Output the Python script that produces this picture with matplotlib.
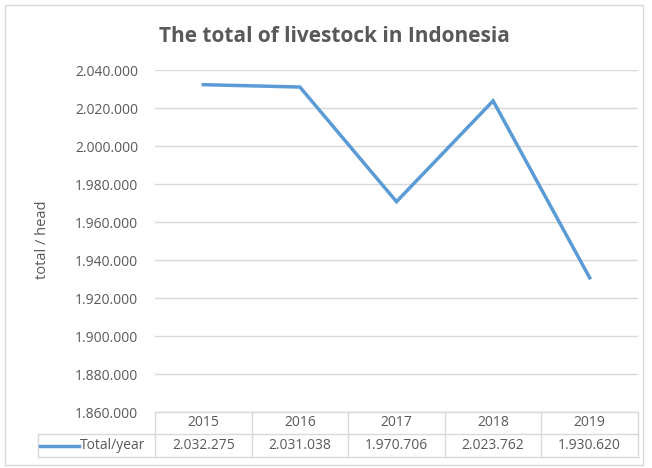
import matplotlib
matplotlib.use("Agg")
import matplotlib.pyplot as plt
from matplotlib.lines import Line2D
from matplotlib.patches import Rectangle

years = ["2015", "2016", "2017", "2018", "2019"]
values = [2032275, 2031038, 1970706, 2023762, 1930620]
value_labels = ["2.032.275", "2.031.038", "1.970.706", "2.023.762", "1.930.620"]
yticks = [1860000, 1880000, 1900000, 1920000, 1940000, 1960000, 1980000, 2000000, 2020000, 2040000]
series_name = "Total/year"
title = "The total of livestock in Indonesia"
ylabel = "total / head"

W, H = 652, 468
fig = plt.figure(figsize=(W / 100, H / 100), dpi=100)
plt.rcParams['font.family'] = ['Open Sans', 'DejaVu Sans']

blue = "#5B9BD5"
grey = "#595959"
gridc = "#D9D9D9"
fs = 10

def fx(px):
    return px / W

def fy(py):
    return 1 - py / H

# outer chart border
fig.patches.append(Rectangle((fx(5), fy(465)), fx(643) - fx(5), fy(5) - fy(465),
                             transform=fig.transFigure, fill=False, edgecolor=gridc, lw=1))

L, R, T, B = 155, 638, 70, 412
ax = fig.add_axes([fx(L), fy(B), fx(R) - fx(L), fy(T) - fy(B)])
x = list(range(len(years)))
ax.plot(x, values, color=blue, lw=2.5, solid_joinstyle="miter")
ax.set_xlim(-0.5, len(years) - 0.5)
ax.set_ylim(yticks[0], yticks[-1])
ax.set_yticks(yticks)
ax.set_yticklabels([f"{v:,}".replace(",", ".") for v in yticks], color=grey, fontsize=fs)
ax.tick_params(axis="y", length=0, pad=12)
ax.set_xticks([])
ax.grid(axis="y", color=gridc, lw=1)
ax.set_axisbelow(True)
for s in ax.spines.values():
    s.set_visible(False)

fig.text(fx(42), fy(240), ylabel, rotation=90, ha="center", va="center", color=grey, fontsize=10.5)
fig.text(fx(334), fy(36), title, ha="center", va="center", color=grey, fontsize=15, fontweight="bold")

# data table
row_top, row_mid, row_bot = 412, 434, 457
colw = (R - L) / len(years)
lk = dict(transform=fig.transFigure, color=gridc, lw=1)
fig.add_artist(Line2D([fx(L), fx(R)], [fy(row_top)] * 2, **lk))
fig.add_artist(Line2D([fx(38), fx(R)], [fy(row_mid)] * 2, **lk))
fig.add_artist(Line2D([fx(38), fx(R)], [fy(row_bot)] * 2, **lk))
fig.add_artist(Line2D([fx(38), fx(38)], [fy(row_mid), fy(row_bot)], **lk))
for i in range(len(years) + 1):
    xx = L + i * colw
    fig.add_artist(Line2D([fx(xx)] * 2, [fy(row_top), fy(row_bot)], **lk))
for i, (yr, vl) in enumerate(zip(years, value_labels)):
    cx = L + (i + 0.5) * colw
    fig.text(fx(cx), fy((row_top + row_mid) / 2), yr, ha="center", va="center", color=grey, fontsize=fs)
    fig.text(fx(cx), fy((row_mid + row_bot) / 2), vl, ha="center", va="center", color=grey, fontsize=fs)
fig.add_artist(Line2D([fx(40), fx(79)], [fy(445.5)] * 2, transform=fig.transFigure, color=blue, lw=2.5))
fig.text(fx(80), fy(445.5), series_name, ha="left", va="center", color=grey, fontsize=fs)

fig.savefig("out.png", dpi=100)
